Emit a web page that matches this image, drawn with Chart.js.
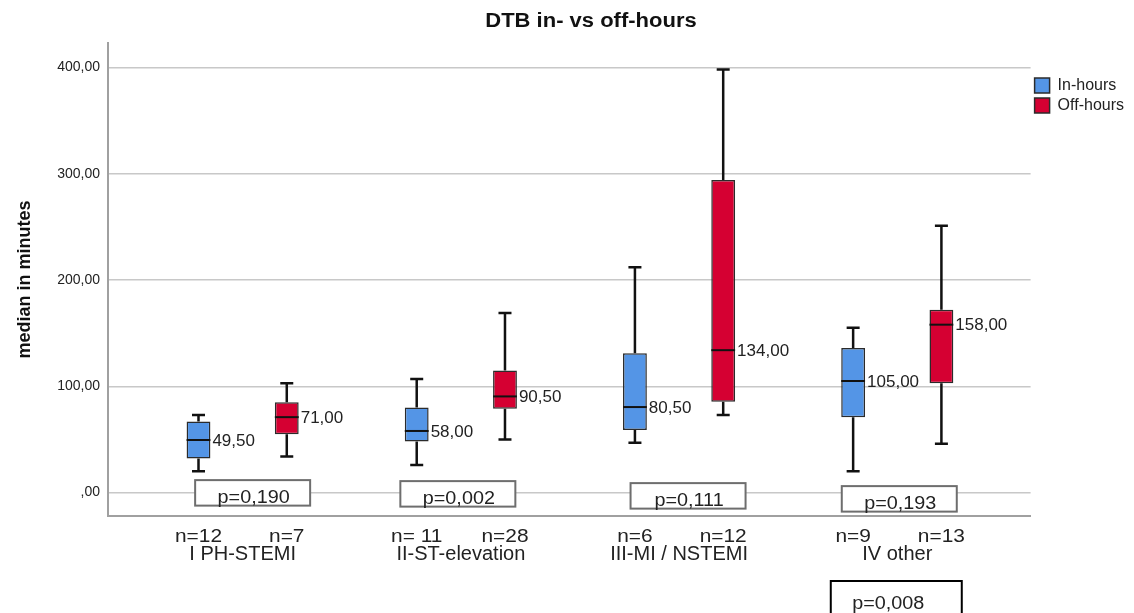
<!DOCTYPE html>
<html>
<head>
<meta charset="utf-8">
<script src="https://cdn.jsdelivr.net/npm/chart.js@4.4.1/dist/chart.umd.min.js"></script>
<style>
  body { margin: 0; background: #fff; }
  #wrap { width: 1134px; height: 613px; position: relative; }
</style>
</head>
<body>
<div id="wrap"><canvas id="dtbChart"></canvas></div>
<script>
// values (minutes)
const categories = ['I PH-STEMI', 'II-ST-elevation', 'III-MI / NSTEMI', 'IV other'];
const seriesNames = ['In-hours', 'Off-hours'];

const inMin = [20, 26, 47, 20];
const inQ1 = [32, 48, 59, 71];
const inMedian = [49.5, 58, 80.5, 105];
const inQ3 = [67, 80, 131, 136];
const inMax = [73, 107, 212, 155];

const offMin = [34, 50, 73, 46];
const offQ1 = [55, 79, 85.5, 103];
const offMedian = [71, 90.5, 134, 158];
const offQ3 = [85, 115, 294, 172];
const offMax = [103, 169, 398, 251];

const inN = ['n=12', 'n= 11', 'n=6', 'n=9'];
const offN = ['n=7', 'n=28', 'n=12', 'n=13'];
const pValues = ['p=0,190', 'p=0,002', 'p=0,111', 'p=0,193'];
const pOverall = 'p=0,008';
const chartTitle = 'DTB in- vs off-hours';

const yTicks = [0, 100, 200, 300, 400];

const FONT = '"Liberation Sans", Arial, sans-serif';

function fmtComma(v) {
    if (v === 0) return ',00';
    return v.toFixed(2).replace('.', ',');
}

// the original output is slightly stretched sideways
function stretchedText(ctx, text, x, y, sx) {
    ctx.save();
    ctx.translate(x, y);
    ctx.scale(sx, 1);
    ctx.fillText(text, 0, 0);
    ctx.restore();
}

const boxPlotExtras = {
    id: 'boxPlotExtras',
    beforeDatasetsDraw(chart) {
        const ctx = chart.ctx;
        const xs = chart.scales.x;
        const ys = chart.scales.y;

        // p-value boxes sitting on the zero line
        const nudgeX = [10, -3, 9, 2];
        const nudgeY = [-12.5, -11.5, -9.5, -6.5];
        ctx.save();
        ctx.font = '18px ' + FONT;
        ctx.textAlign = 'center';
        ctx.textBaseline = 'alphabetic';
        pValues.forEach((p, i) => {
            const cx = xs.getPixelForValue(i) + nudgeX[i];
            const top = ys.getPixelForValue(0) + nudgeY[i];
            const w = 115, h = 25.5;
            ctx.fillStyle = '#fff';
            ctx.fillRect(cx - w / 2, top, w, h);
            ctx.strokeStyle = '#6e6e6e';
            ctx.lineWidth = 2;
            ctx.strokeRect(cx - w / 2, top, w, h);
            ctx.fillStyle = '#222';
            stretchedText(ctx, p, cx + 1, top + h - 2.5, 1.1);
        });
        ctx.restore();

        // whiskers
        ctx.save();
        ctx.strokeStyle = '#111';
        ctx.lineWidth = 2.5;
        chart.data.datasets.forEach((ds, di) => {
            const meta = chart.getDatasetMeta(di);
            meta.data.forEach((bar, i) => {
                const x = bar.x;
                const yMin = ys.getPixelForValue(ds.whiskerMin[i]);
                const yQ1 = ys.getPixelForValue(ds.data[i].y[0]);
                const yQ3 = ys.getPixelForValue(ds.data[i].y[1]);
                const yMax = ys.getPixelForValue(ds.whiskerMax[i]);
                const cap = 6.5;
                ctx.beginPath();
                ctx.moveTo(x, yQ3);
                ctx.lineTo(x, yMax);
                ctx.moveTo(x - cap, yMax);
                ctx.lineTo(x + cap, yMax);
                ctx.moveTo(x, yQ1);
                ctx.lineTo(x, yMin);
                ctx.moveTo(x - cap, yMin);
                ctx.lineTo(x + cap, yMin);
                ctx.stroke();
            });
        });
        ctx.restore();
    },
    afterDatasetsDraw(chart) {
        const ctx = chart.ctx;
        const ys = chart.scales.y;
        ctx.save();
        chart.data.datasets.forEach((ds, di) => {
            const meta = chart.getDatasetMeta(di);
            meta.data.forEach((bar, i) => {
                const yMed = ys.getPixelForValue(ds.medians[i]);
                const half = bar.width / 2;
                ctx.strokeStyle = '#111';
                ctx.lineWidth = 2;
                ctx.beginPath();
                ctx.moveTo(bar.x - half, yMed);
                ctx.lineTo(bar.x + half, yMed);
                ctx.stroke();

                ctx.font = '17px ' + FONT;
                ctx.fillStyle = '#222';
                ctx.textAlign = 'left';
                ctx.textBaseline = 'middle';
                ctx.fillText(fmtComma(ds.medians[i]), bar.x + half + 2, yMed + 1);
            });
        });
        ctx.restore();
    },
    afterDraw(chart) {
        const ctx = chart.ctx;
        const xs = chart.scales.x;
        ctx.save();

        // title, centred a little right of the plot like the original
        ctx.font = 'bold 20px ' + FONT;
        ctx.fillStyle = '#111';
        ctx.textAlign = 'center';
        ctx.textBaseline = 'middle';
        stretchedText(ctx, chartTitle, 591, 21.5, 1.1);

        // n under each box
        ctx.font = '19px ' + FONT;
        ctx.fillStyle = '#222';
        ctx.textAlign = 'center';
        ctx.textBaseline = 'alphabetic';
        chart.data.datasets.forEach((ds, di) => {
            const meta = chart.getDatasetMeta(di);
            meta.data.forEach((bar, i) => {
                stretchedText(ctx, ds.nLabels[i], bar.x, 541.5, 1.1);
            });
        });

        // overall p value, cut by the bottom edge
        const cx = xs.getPixelForValue(3) - 1;
        ctx.strokeStyle = '#000';
        ctx.lineWidth = 2;
        ctx.strokeRect(cx - 65.5, 581, 131, 45);
        ctx.font = '18px ' + FONT;
        stretchedText(ctx, pOverall, cx - 8, 609, 1.1);
        ctx.restore();
    }
};

const ctx = document.getElementById('dtbChart').getContext('2d');

new Chart(ctx, {
    type: 'bar',
    data: {
        datasets: [
            {
                label: seriesNames[0],
                data: categories.map((c, i) => ({ x: i, y: [inQ1[i], inQ3[i]] })),
                whiskerMin: inMin,
                whiskerMax: inMax,
                medians: inMedian,
                nLabels: inN,
                backgroundColor: '#5495E6',
                borderColor: '#2b2b2b',
                borderWidth: 1.5,
                borderSkipped: false
            },
            {
                label: seriesNames[1],
                data: categories.map((c, i) => ({ x: i, y: [offQ1[i], offQ3[i]] })),
                whiskerMin: offMin,
                whiskerMax: offMax,
                medians: offMedian,
                nLabels: offN,
                backgroundColor: '#D50032',
                borderColor: '#2b2b2b',
                borderWidth: 1.5,
                borderSkipped: false
            }
        ]
    },
    options: {
        responsive: true,
        maintainAspectRatio: false,
        animation: false,
        devicePixelRatio: 1,
        categoryPercentage: 0.809,
        barPercentage: 0.27,
        layout: {
            padding: { left: 0, right: 0, top: 43, bottom: 0 }
        },
        plugins: {
            title: { display: false },
            legend: {
                position: 'right',
                align: 'start',
                title: {
                    display: true,
                    text: '',
                    font: { size: 10 },
                    padding: { top: 0, bottom: 18.5 }
                },
                labels: {
                    boxWidth: 15,
                    boxHeight: 15,
                    padding: 4,
                    color: '#222',
                    font: { family: FONT, size: 16 }
                }
            },
            tooltip: { enabled: false }
        },
        scales: {
            x: {
                type: 'linear',
                offset: false,
                min: -0.617,
                max: 3.611,
                afterBuildTicks: (scale) => {
                    scale.ticks = categories.map((c, i) => ({ value: i }));
                },
                afterFit: (scale) => {
                    scale.height = 97;
                },
                grid: { display: false, drawTicks: false, offset: false },
                border: { display: true, color: '#a0a0a0', width: 2 },
                ticks: {
                    autoSkip: false,
                    maxRotation: 0,
                    padding: 26,
                    color: '#222',
                    font: { family: FONT, size: 20 },
                    callback: (v) => categories[v]
                }
            },
            y: {
                min: -22,
                max: 423,
                afterBuildTicks: (scale) => {
                    scale.ticks = yTicks.map(v => ({ value: v }));
                },
                afterFit: (scale) => {
                    scale.width = 108;
                },
                grid: { color: '#c8c8c8', lineWidth: 1.5, drawTicks: false },
                border: { display: true, color: '#a0a0a0', width: 2 },
                ticks: {
                    padding: 8,
                    color: '#222',
                    font: { family: FONT, size: 14 },
                    callback: (v) => fmtComma(v)
                },
                title: {
                    display: true,
                    text: 'median in minutes',
                    color: '#111',
                    font: { family: FONT, size: 18, weight: 'bold' },
                    padding: { top: 14, bottom: 0 }
                }
            }
        }
    },
    plugins: [boxPlotExtras]
});
</script>
</body>
</html>
